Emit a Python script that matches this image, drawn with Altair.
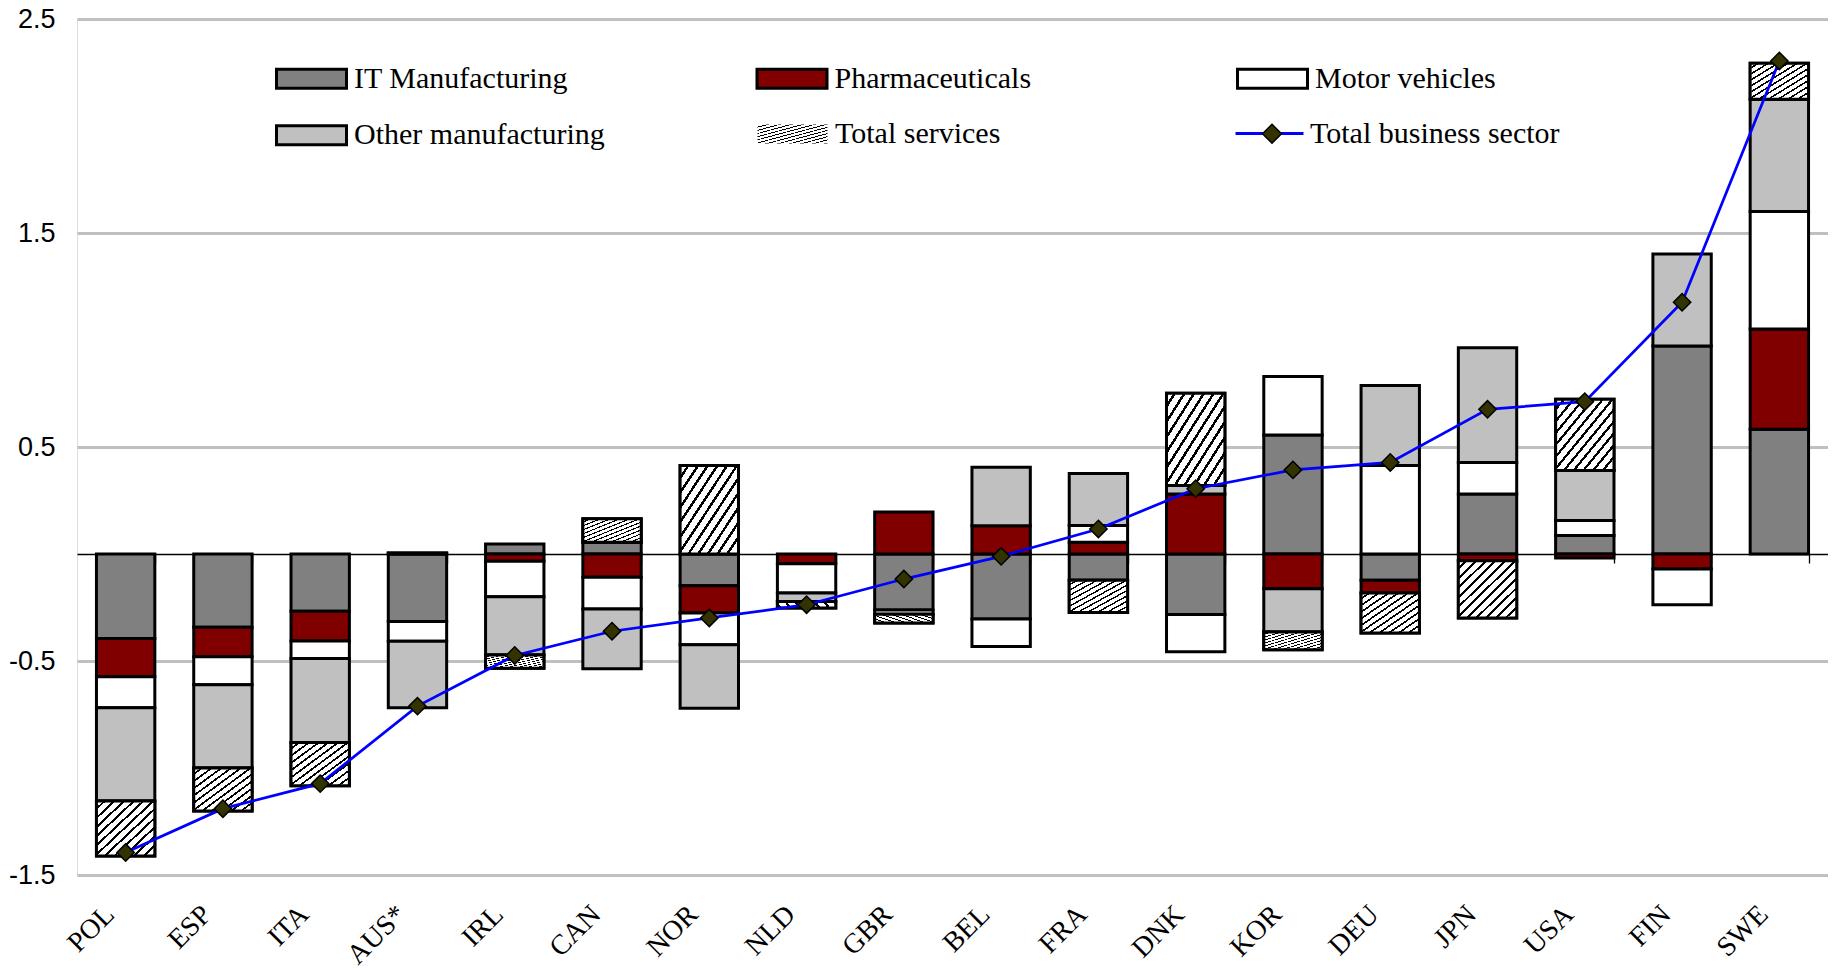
import altair as alt
import pandas as pd

countries = ["POL", "ESP", "ITA", "AUS*", "IRL", "CAN", "NOR", "NLD", "GBR",
             "BEL", "FRA", "DNK", "KOR", "DEU", "JPN", "USA", "FIN", "SWE"]
sectors = ["IT Manufacturing", "Pharmaceuticals", "Motor vehicles",
           "Other manufacturing", "Total services"]
sector_colors = ["#808080", "#800000", "#ffffff", "#c0c0c0", "#ffffff"]

it_manufacturing = [-0.395, -0.342, -0.267, -0.316, 0.047, 0.055, -0.148, 0.0, -0.262,
                    -0.304, -0.123, -0.283, 0.556, -0.123, 0.280, 0.086, 0.972, 0.583]
pharmaceuticals = [-0.179, -0.138, -0.140, 0.0, -0.034, -0.109, -0.128, -0.045, 0.196,
                   0.132, 0.055, 0.280, -0.162, -0.059, -0.031, -0.019, -0.070, 0.468]
motor_vehicles = [-0.145, -0.131, -0.081, -0.092, -0.166, -0.148, -0.148, -0.137, -0.020,
                  -0.128, 0.078, -0.174, 0.273, 0.413, 0.148, 0.070, -0.167, 0.549]
other_manufacturing = [-0.435, -0.389, -0.393, -0.311, -0.272, -0.279, -0.297, -0.040, 0.0,
                       0.273, 0.243, 0.040, -0.202, 0.374, 0.536, 0.234, 0.430, 0.525]
total_services = [-0.257, -0.201, -0.202, 0.005, -0.062, 0.110, 0.414, -0.030, -0.040,
                  0.0, -0.150, 0.431, -0.083, -0.187, -0.268, 0.333, 0.0, 0.168]
total_business = [-1.395, -1.190, -1.073, -0.711, -0.474, -0.361, -0.299, -0.237, -0.117,
                  -0.011, 0.117, 0.305, 0.393, 0.428, 0.676, 0.712, 1.176, 2.304]

series_lists = [it_manufacturing, pharmaceuticals, motor_vehicles,
                other_manufacturing, total_services]
rows = []
for ci, c in enumerate(countries):
    for si, s in enumerate(sectors):
        rows.append({"country": c, "sector": s, "order": si,
                     "value": series_lists[si][ci]})
bars_df = pd.DataFrame(rows)
total_df = pd.DataFrame({"country": countries, "total": total_business,
                         "series": ["Total business sector"] * len(countries),
                         "series2": ["Total business sector"] * len(countries)})


def hatch(n, frac=0.3):
    stops = []
    for i in range(n):
        a = i / n
        b = (i + 1 - frac) / n
        c = (i + 1) / n
        stops += [{"offset": a, "color": "#ffffff"}, {"offset": b, "color": "#ffffff"},
                  {"offset": b, "color": "#000000"}, {"offset": c, "color": "#000000"}]
    return {"gradient": "linear", "x1": 0, "y1": 0, "x2": 1, "y2": 1, "stops": stops}


HATCH = hatch(12)

W, H = 1751, 856
YMIN, YMAX = -1.5, 2.5
zero_offset = -H * (0 - YMIN) / (YMAX - YMIN)
SERIF = "Liberation Serif"
SANS = "Liberation Sans"
COLS = [198, 679, 1161]
ROW_CY = [58.2, 113.5]
RECT = "M-1,-0.27H1V0.27H-1Z"

x_axis = alt.Axis(title=None, orient="bottom", offset=zero_offset, domain=True,
                  domainColor="black", domainWidth=1.3, ticks=True, tickBand="extent",
                  tickSize=9, tickColor="black", tickWidth=1.3, grid=False,
                  labelAngle=-45, labelAlign="right", labelBaseline="middle",
                  labelFont=SERIF, labelFontSize=28, labelColor="black",
                  labelPadding=347, labelOffset=-16, labelOverlap=False,
                  labelBound=False, labelFlush=False)
x_enc = alt.X("country:N", sort=countries,
              scale=alt.Scale(domain=countries, paddingInner=0.4, paddingOuter=0.2),
              axis=x_axis)
y_scale = alt.Scale(domain=[YMIN, YMAX], nice=False, zero=False)
y_axis = alt.Axis(title=None, values=[-1.5, -0.5, 0.5, 1.5, 2.5], ticks=False,
                  domain=False, grid=True, gridColor="#c0c0c0", gridWidth=3,
                  labelFont=SANS, labelFontSize=27, labelColor="black", labelPadding=22,
                  labelExpr="(datum.value < 0 ? '-' : '') + format(abs(datum.value), '.1f')")

leg_common = dict(title=None, orient="none", padding=0, labelFont=SERIF, labelFontSize=30,
                  labelColor="black", labelLimit=0)

fill_legend = alt.Legend(legendX=COLS[0], legendY=ROW_CY[0] - 35, columns=3,
                         direction="horizontal", values=sectors[:4],
                         gridAlign="all", columnPadding=145.5, rowPadding=4.5,
                         symbolType=RECT, symbolSize=4900,
                         symbolStrokeColor="black", symbolStrokeWidth=3,
                         labelOffset=6, **leg_common)

base = (alt.Chart(bars_df)
        .transform_filter("datum.value != 0")
        .transform_stack(stack="value", as_=["y0", "y1"], groupby=["country"],
                         sort=[alt.SortField("order", order="ascending")]))

bars = base.mark_bar(stroke="black", strokeWidth=3).encode(
    x=x_enc,
    y=alt.Y("y0:Q", scale=y_scale, axis=y_axis),
    y2="y1:Q",
    fill=alt.Fill("sector:N", sort=sectors,
                  scale=alt.Scale(domain=sectors, range=sector_colors),
                  legend=fill_legend),
)

hatched = (base.transform_filter("datum.sector == 'Total services'")
           .mark_bar(stroke="black", strokeWidth=3, fill=HATCH)
           .encode(x=x_enc, y=alt.Y("y0:Q", scale=y_scale, axis=y_axis), y2="y1:Q",
                   opacity=alt.Opacity("sector:O", scale=alt.Scale(range=[1]),
                                       legend=alt.Legend(legendX=COLS[1],
                                                         legendY=ROW_CY[1] - 35,
                                                         symbolType=RECT, symbolSize=4900,
                                                         symbolStrokeColor="black",
                                                         symbolStrokeWidth=3,
                                                         labelOffset=6, **leg_common))))

line = alt.Chart(total_df).mark_line(strokeWidth=2.75).encode(
    x=x_enc,
    y=alt.Y("total:Q", scale=y_scale, axis=y_axis),
    stroke=alt.Stroke("series:N", scale=alt.Scale(range=["#0000ff"]),
                      legend=alt.Legend(legendX=COLS[2] - 4, legendY=ROW_CY[1] - 34.5,
                                        symbolType="stroke", symbolSize=4624,
                                        symbolStrokeWidth=3, labelOffset=5, **leg_common)),
)

points = alt.Chart(total_df).mark_point(shape="diamond", filled=True, size=300,
                                         stroke="black", strokeWidth=1.5, opacity=1).encode(
    x=x_enc,
    y=alt.Y("total:Q", scale=y_scale, axis=y_axis),
    color=alt.Color("series2:N", scale=alt.Scale(range=["#333300"]),
                    legend=alt.Legend(title=None, orient="none", padding=0,
                                      legendX=COLS[2] + 23.5, legendY=ROW_CY[1] - 9.3,
                                      symbolType="diamond", symbolSize=361,
                                      symbolStrokeColor="black", symbolStrokeWidth=1.5,
                                      symbolFillColor="#333300", labelExpr="''",
                                      labelFontSize=1, labelOpacity=0, labelOffset=0)),
)

chart = (alt.layer(bars, hatched, line, points)
         .resolve_scale(fill="independent")
         .properties(width=W, height=H,
                     autosize=alt.AutoSizeParams(type="none"),
                     padding={"left": 69, "top": 11, "right": 0, "bottom": 95})
         .configure_view(stroke=None)
         .configure(background="white"))

chart.save("out.html", embed_options={"renderer": "svg", "actions": False})
